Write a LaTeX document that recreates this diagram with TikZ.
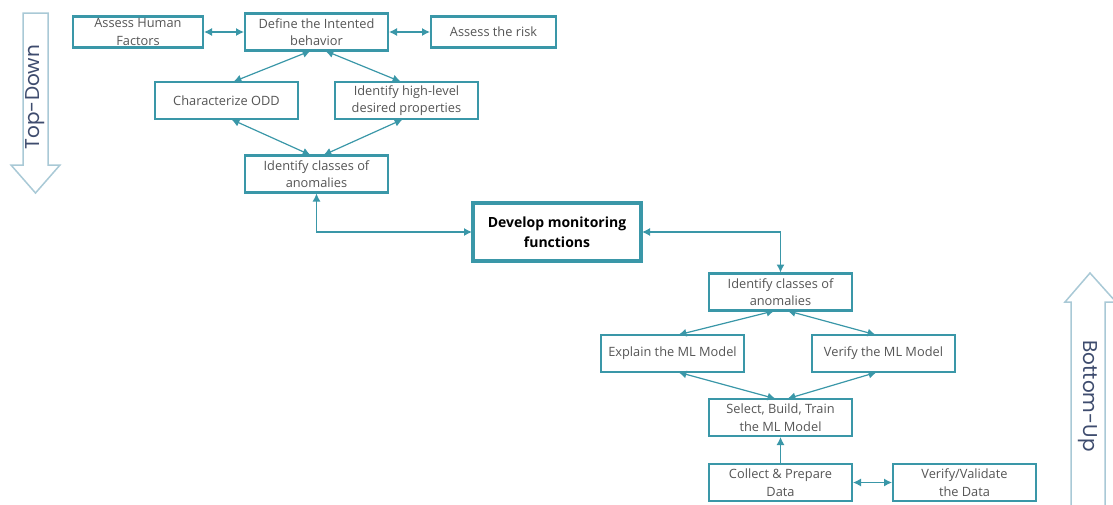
\documentclass[tikz,border=0pt]{standalone}
\usepackage{fontspec}
\setmainfont{Open Sans}
\newfontfamily\arrowfont{Poppins}
\usetikzlibrary{positioning}
\usetikzlibrary{arrows.meta,calc}
\definecolor{boxline}{HTML}{3A97A8}
\definecolor{boxtext}{HTML}{555555}
\definecolor{bigline}{HTML}{A9C9D6}
\definecolor{arrowtext}{HTML}{3E4C6E}
\tikzset{
    %Define standard arrow tip
    >={Latex[length=8pt,width=8pt]},
    % Define arrow style
    pil/.style={
           <->,
           boxline,
           line width=1.2pt,
           shorten <=1pt,
           shorten >=1pt,}
}
\newcommand{\nodewidth}{143pt}
\newcommand{\nodeheight}{37pt}

\begin{document}
\begin{tikzpicture}[x=1pt, y=-1pt, node distance=0pt, outer sep=0pt]
\tikzstyle{box}=[draw=boxline, line width=2.2pt, rectangle, minimum height=\nodeheight, minimum width=\nodewidth, fill=white, align=center, text=boxtext, inner sep=1pt, font=\fontsize{12.8}{17.5}\selectfont]
\tikzstyle{smallbox}=[box, minimum height=31pt]
\tikzstyle{mainbox}=[box, line width=4.5pt, minimum height=58pt, minimum width=168pt, text=black, font=\fontsize{14}{20}\selectfont\bfseries]
\tikzstyle{bigarrow}=[draw=bigline, line width=1.5pt, fill=white]
\tikzstyle{bigtext}=[text=arrowtext, font=\arrowfont\fontsize{20}{20}\selectfont]

\useasboundingbox (0,0) rectangle (1113,504);

% side arrows
\draw[bigarrow] (23,13) -- (48,13) -- (48,165) -- (60,165) -- (35.5,193) -- (11,165) -- (23,165) -- cycle;
\node[bigtext, rotate=90] (topdown) at (35.5,97) {Top-Down};
\draw[bigarrow] (1071,510) -- (1071,302) -- (1065,302) -- (1090,273) -- (1116,302) -- (1105,302) -- (1105,510);
\node[bigtext, rotate=-90] (bottomup) at (1088,396) {Bottom-Up};

% top-down part
\node[box] (intent) at (316.5,32) {Define the Intented\\behavior};
\node[smallbox, minimum width=130pt] (human) [left=42pt of intent] {Assess Human\\Factors};
\node[smallbox, minimum width=125pt] (risk) [right=43pt of intent] {Assess the risk};
\node[box] (odd) at (226.5,100.5) {Characterize ODD};
\node[box] (props) [right=37pt of odd] {Identify high-level\\desired properties};
\node[box] (anomtop) at (316.5,174) {Identify classes of\\anomalies};

\node[mainbox] (develop) at (557,232) {Develop monitoring\\functions};

% bottom-up part
\node[box] (anombot) at (780.5,292) {Identify classes of\\anomalies};
\node[box] (explain) at (672.5,353.5) {Explain the ML Model};
\node[box] (verify) [right=68pt of explain] {Verify the ML Model};
\node[box] (train) at (780.5,417.5) {Select, Build, Train\\the ML Model};
\node[box] (collect) [below=28pt of train] {Collect \& Prepare\\Data};
\node[box] (validate) [right=41pt of collect] {Verify/Validate\\the Data};

\path[pil] (human.east) edge (intent.west);
\path[pil] (intent.east) edge (risk.west);
\path[pil] ([xshift=-5pt]intent.south) edge ([xshift=6pt]odd.north);
\path[pil] ([xshift=8pt]intent.south) edge ([xshift=-5pt]props.north);
\path[pil] ([xshift=4pt]odd.south) edge ([xshift=-5pt]anomtop.north);
\path[pil] ([xshift=-3pt]props.south) edge ([xshift=6pt]anomtop.north);

\draw[pil] (anomtop.south) |- (develop.west);
\draw[pil] (develop.east) -| (anombot.north);

\path[pil] ([xshift=-5pt]anombot.south) edge ([xshift=5pt]explain.north);
\path[pil] ([xshift=6pt]anombot.south) edge ([xshift=-7pt]verify.north);
\path[pil] ([xshift=5pt]explain.south) edge ([xshift=-4pt]train.north);
\path[pil] ([xshift=-6pt]verify.south) edge ([xshift=6pt]train.north);
\draw[pil,->] (collect.north) -- (train.south);
\path[pil] (collect.east) edge (validate.west);

\end{tikzpicture}
\end{document}
